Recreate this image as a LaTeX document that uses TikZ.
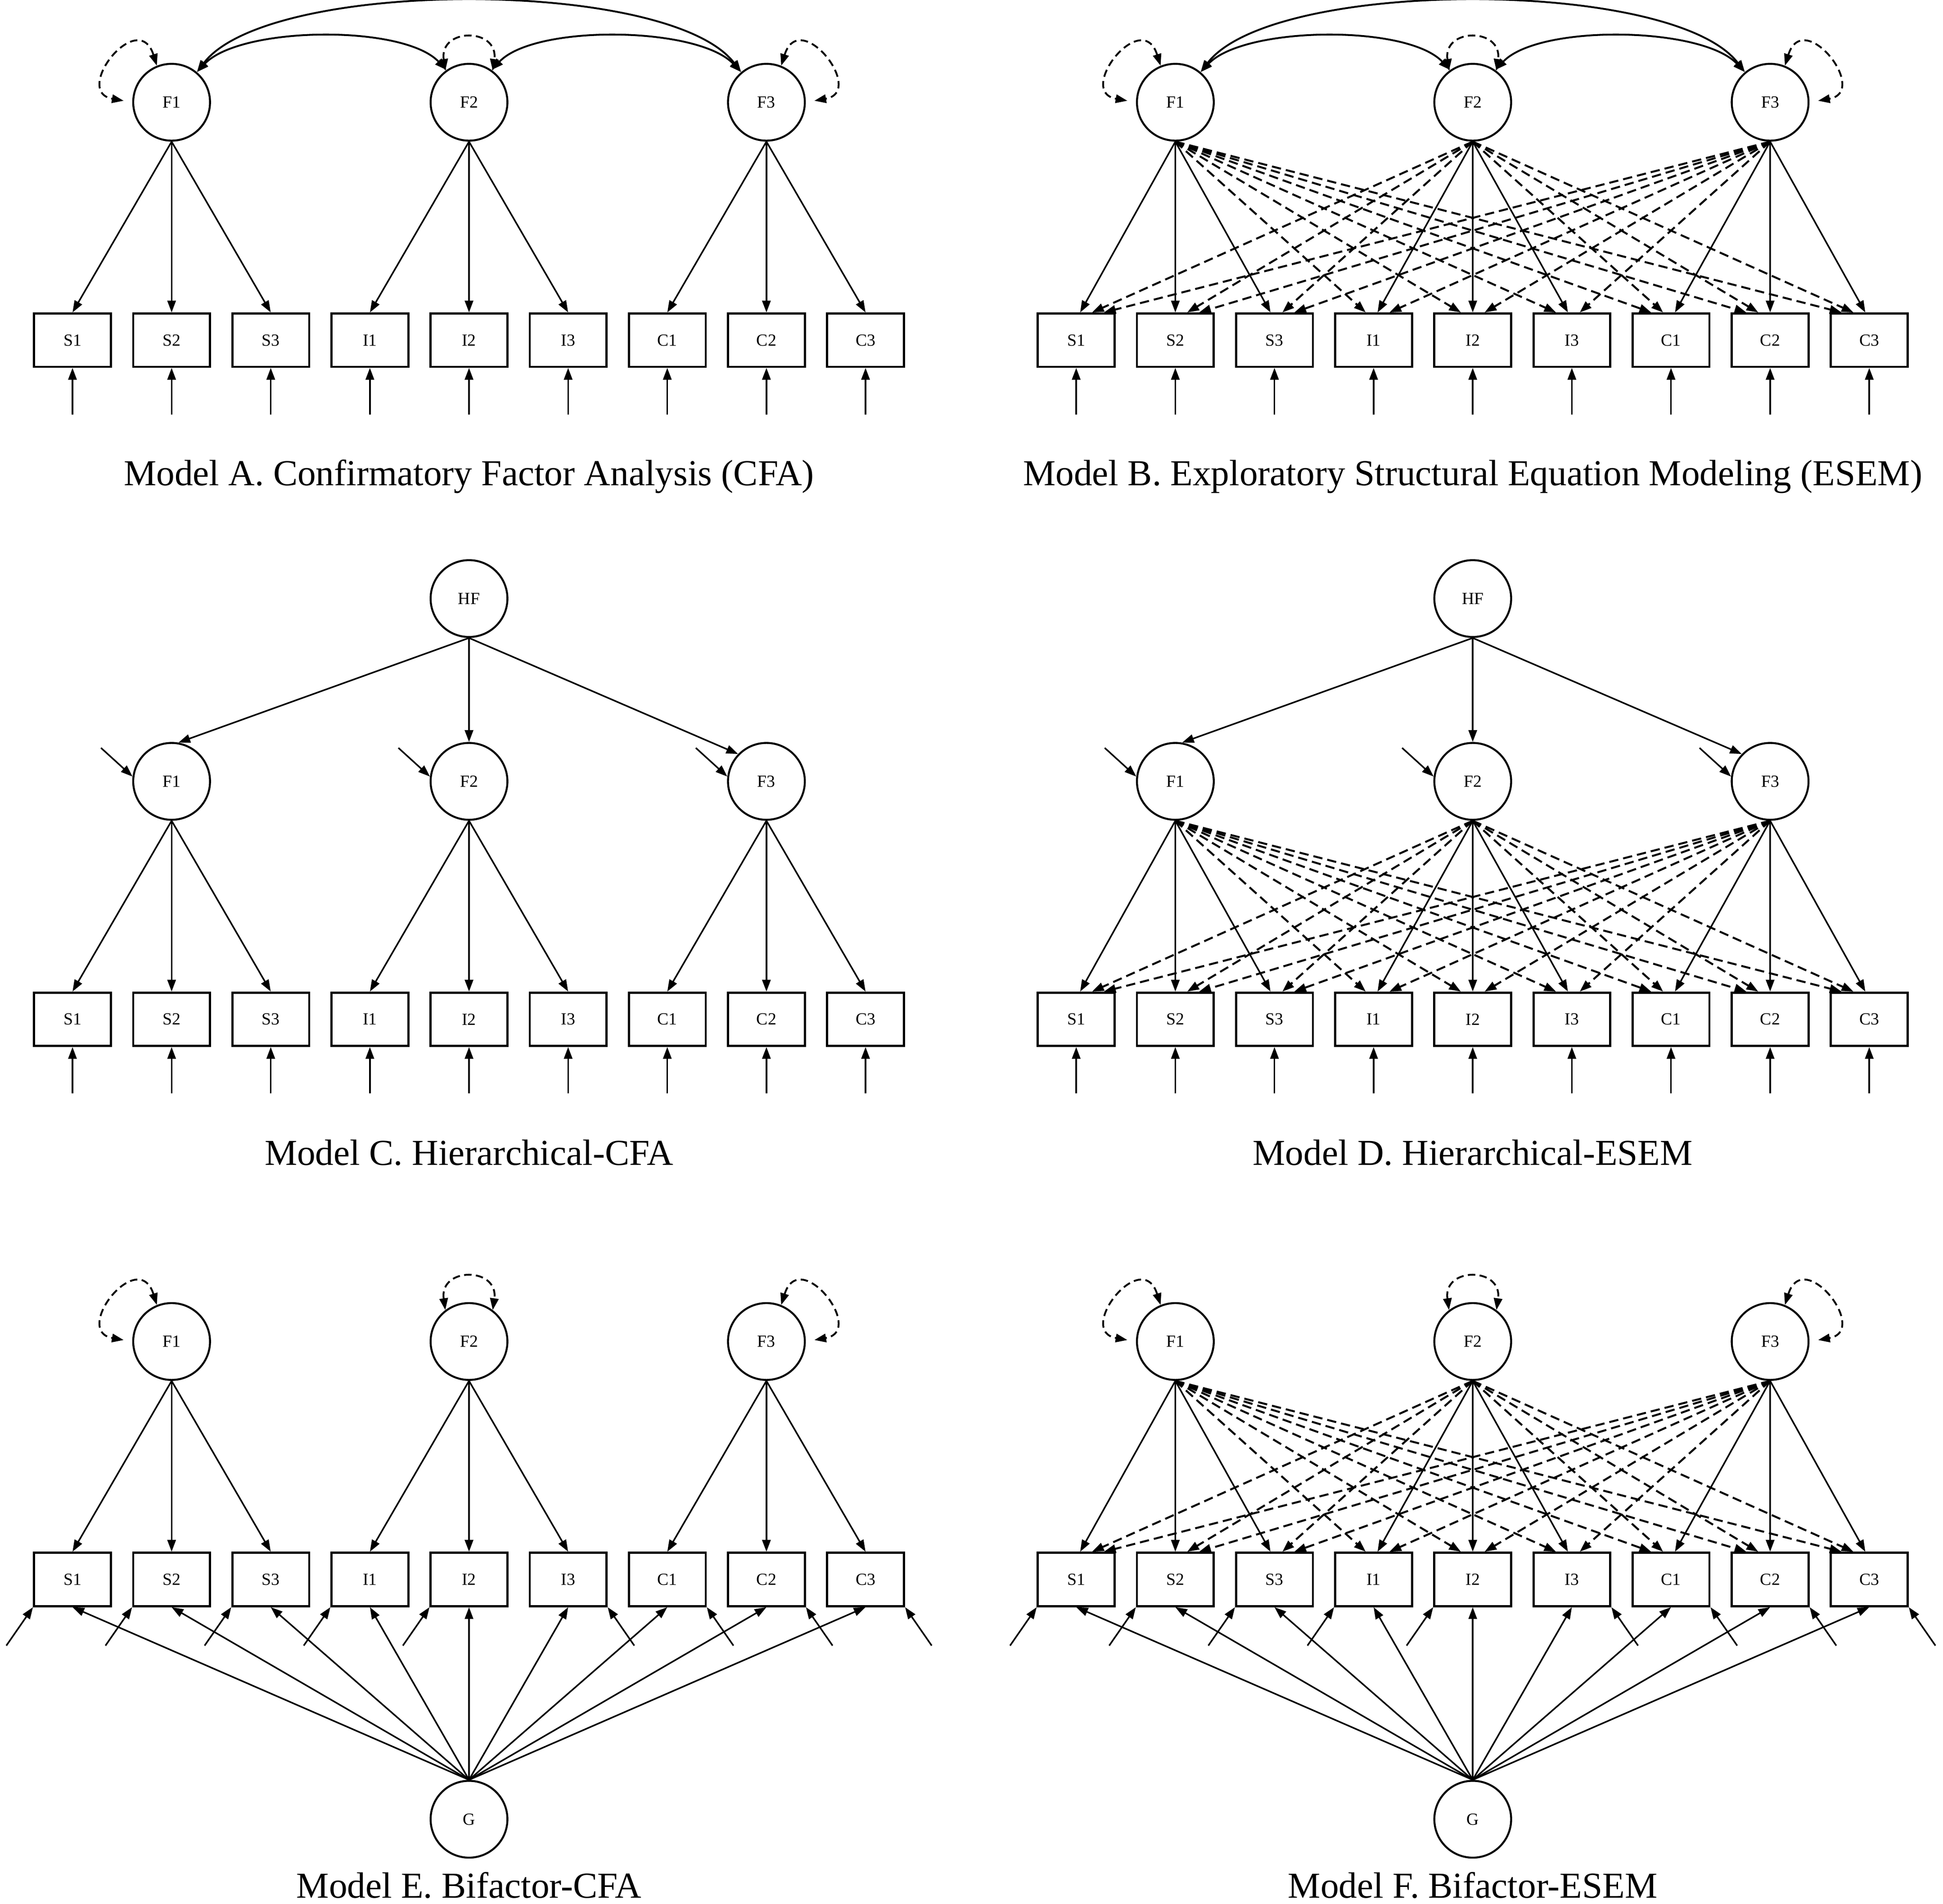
\documentclass[tikz,border=0pt]{standalone}
\usepackage{fontspec}
\setmainfont{Liberation Serif}
\usetikzlibrary{arrows.meta,calc}

\begin{document}
\begin{tikzpicture}[x=0.1mm, y=-0.1mm,
    latent/.style={circle, draw, line width=0.45pt, minimum size=6.2mm, inner sep=0pt, font=\fontsize{3.9}{4.5}\selectfont},
    item/.style={rectangle, draw, line width=0.5pt, minimum width=6.2mm, minimum height=4.3mm, inner sep=0pt, font=\fontsize{3.9}{4.5}\selectfont},
    load/.style={line width=0.36pt, -{Triangle[length=0.95mm, width=0.68mm]}},
    cross/.style={load, line width=0.45pt, dash pattern=on 0.75mm off 0.4mm},
    cov/.style={line width=0.42pt, {Triangle[length=0.95mm, width=0.68mm]}-{Triangle[length=0.95mm, width=0.68mm]}},
    var/.style={cov, dash pattern=on 0.6mm off 0.35mm},
    modeltitle/.style={anchor=base, font=\fontsize{8.4}{10}\selectfont}]
    \useasboundingbox (0,0) rectangle (1568,1536.4);

    % Draw nodes
    \foreach \m/\ox/\fy in {A/0/82.5, B/810/82.5, C/0/630.5, D/810/630.5, E/0/1082.5, F/810/1082.5} {
        \foreach \f in {1,2,3}
            \node[latent] (\m F\f) at (138.5+240*\f-240+\ox, \fy) {F\f};
        \foreach \v [count=\j] in {S1,S2,S3,I1,I2,I3,C1,C2,C3}
            \node[item] (\m\j) at (58.5+80*\j-80+\ox, \fy+192) {\v};
    }
    \node[latent] (CH) at (378.5, 483) {HF};
    \node[latent] (DH) at (1188.5, 483) {HF};
    \node[latent] (EG) at (378.5, 1468) {G};
    \node[latent] (FG) at (1188.5, 1468) {G};

    % Draw loadings (CFA)
    \foreach \m in {A,C,E}
        \foreach \j in {1,...,9} {
            \pgfmathtruncatemacro{\f}{(\j+2)/3}
            \draw[load] (\m F\f.south) -- (\m\j.north);
        }

    % Draw loadings (ESEM), cross loadings dashed
    \foreach \m in {B,D,F}
        \foreach \f in {1,2,3}
            \foreach \j in {1,...,9} {
                \pgfmathtruncatemacro{\own}{(\j+2)/3}
                \ifnum\own=\f\relax\else
                    \draw[cross] (\m F\f.south) -- ($(\m\j.north)!0.04!(\m\j.north -| \m F\f.south)$);
                \fi
            }
    \foreach \m in {B,D,F}
        \foreach \j in {1,...,9} {
            \pgfmathtruncatemacro{\f}{(\j+2)/3}
            \draw[load] (\m F\f.south) -- ($(\m\j.north)!0.04!(\m\j.north -| \m F\f.south)$);
        }

    % Draw item errors
    \foreach \m in {A,B,C,D}
        \foreach \j in {1,...,9} {
            \coordinate (\m e\j) at ($(\m\j.south)+(0,37.5)$);
            \draw[load] (\m e\j) -- (\m\j.south);
        }
    \foreach \m in {E,F} {
        \foreach \j in {1,...,5} {
            \coordinate (\m e\j) at ($(\m\j.south west)+(-21.5,31)$);
            \draw[load] (\m e\j) -- (\m\j.south west);
        }
        \foreach \j in {6,...,9} {
            \coordinate (\m e\j) at ($(\m\j.south east)+(21.5,31)$);
            \draw[load] (\m e\j) -- (\m\j.south east);
        }
    }

    % Draw general factor loadings
    \foreach \m in {E,F}
        \foreach \j in {1,...,9}
            \draw[load] (\m G.north) -- (\m\j.south);

    % Draw higher order factor and disturbances
    \foreach \m in {C,D} {
        \draw[load] (\m H.south) -- (\m F1.80);
        \draw[load] (\m H.south) -- (\m F2.north);
        \draw[load] (\m H.south) -- (\m F3.136);
        \foreach \f in {1,2,3} {
            \coordinate (\m d\f) at ($(\m F\f)+(-57,-27)$);
            \draw[load] (\m d\f) -- (\m F\f.173);
        }
    }

    % Draw factor covariances
    \foreach \m in {A,B} {
        \draw[cov] (\m F1.50) .. controls +(35,-37) and +(-35,-37) .. (\m F2.125); % F1 with F2
        \draw[cov] (\m F2.55) .. controls +(35,-37) and +(-35,-37) .. (\m F3.130); % F2 with F3
        \draw[cov] (\m F1.50) .. controls +(58,-76) and +(-58,-76) .. (\m F3.130); % F1 with F3
    }

    % Draw factor variances
    \foreach \m in {A,B,E,F} {
        \draw[var, shorten >=0.7mm] (\m F1.112) .. controls +(-15,-47.5) and +(-49,-8.5) .. (\m F1.west);
        \draw[var] (\m F2.127) .. controls +(-5,-35) and +(5,-35) .. (\m F2.53);
        \draw[var, shorten >=0.7mm] (\m F3.68) .. controls +(15,-47.5) and +(49,-8.5) .. (\m F3.east);
    }

    % Draw titles
    \node[modeltitle] (tA) at (378.5, 391.8) {Model A. Confirmatory Factor Analysis (CFA)};
    \node[modeltitle] (tB) at (1188.5, 391.8) {Model B. Exploratory Structural Equation Modeling (ESEM)};
    \node[modeltitle] (tC) at (378.5, 940) {Model C. Hierarchical-CFA};
    \node[modeltitle] (tD) at (1188.5, 940) {Model D. Hierarchical-ESEM};
    \node[modeltitle] (tE) at (378.5, 1531.6) {Model E. Bifactor-CFA};
    \node[modeltitle] (tF) at (1188.5, 1531.6) {Model F. Bifactor-ESEM};
\end{tikzpicture}
\end{document}
